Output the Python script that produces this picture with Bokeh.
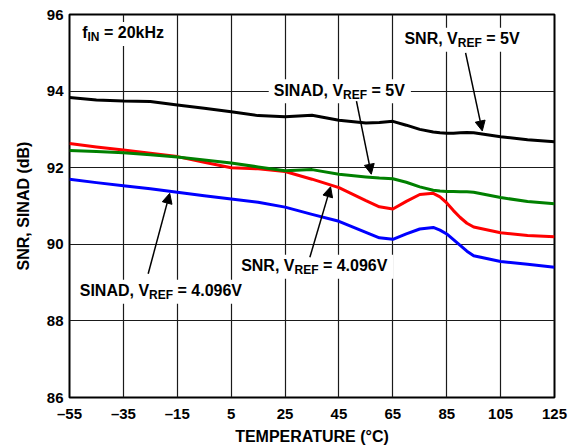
from bokeh.plotting import figure
from bokeh.models import Range1d, FixedTicker, Arrow, NormalHead
from bokeh.core.properties import value
from bokeh.embed import file_html
from bokeh.resources import INLINE

# ---------------- data ----------------
temps = [-55, -45, -35, -25, -15, -5, 5, 15, 25, 35, 45, 55, 60, 65, 70, 75, 80, 82.5, 85, 87.5, 90, 92.5,
         95, 105, 115, 125]
snr_5v = [93.83, 93.77, 93.74, 93.73, 93.64, 93.55, 93.46, 93.36, 93.33, 93.37, 93.24, 93.17, 93.18, 93.21,
          93.11, 93.00, 92.93, 92.91, 92.90, 92.90, 92.91, 92.92, 92.91, 92.81, 92.73, 92.68]
sinad_5v = [92.45, 92.42, 92.39, 92.34, 92.28, 92.20, 92.12, 92.02, 91.92, 91.95, 91.83, 91.76, 91.73, 91.71,
            91.62, 91.50, 91.41, 91.39, 91.38, 91.38, 91.37, 91.37, 91.36, 91.22, 91.12, 91.06]
snr_4096 = [92.63, 92.54, 92.46, 92.38, 92.29, 92.14, 92.00, 91.97, 91.90, 91.70, 91.48, 91.14, 90.98, 90.92,
            91.12, 91.30, 91.33, 91.24, 91.08, 90.88, 90.70, 90.55, 90.45, 90.30, 90.23, 90.20]
sinad_4096 = [91.70, 91.61, 91.53, 91.45, 91.36, 91.27, 91.18, 91.10, 90.97, 90.78, 90.60, 90.31, 90.17, 90.13,
              90.27, 90.40, 90.44, 90.37, 90.27, 90.12, 89.97, 89.82, 89.70, 89.55, 89.48, 89.40]

x_ticks = [-55, -35, -15, 5, 25, 45, 65, 85, 105, 125]
x_tick_labels = ["\u201355", "\u201335", "\u201315", "5", "25", "45", "65", "85", "105", "125"]
y_ticks = [86, 88, 90, 92, 94, 96]
y_tick_labels = ["86", "88", "90", "92", "94", "96"]

FONT = "Liberation Sans"
X0, X1, Y0, Y1 = -55, 125, 86, 96
W, H = 577, 448
BL, BR, BT, BB = 69, 23, 14, 51
FW, FH = W - BL - BR, H - BT - BB
PX_X = FW / (X1 - X0)   # pixels per degree
PX_Y = FH / (Y1 - Y0)   # pixels per dB

p = figure(width=W, height=H, x_range=Range1d(X0, X1), y_range=Range1d(Y0, Y1),
           output_backend="svg", toolbar_location=None,
           min_border_left=BL, min_border_right=BR, min_border_top=BT, min_border_bottom=BB)
p.background_fill_color = None
p.border_fill_color = None
p.outline_line_color = "black"
p.outline_line_width = 2

p.xaxis.ticker = FixedTicker(ticks=x_ticks)
p.xaxis.major_label_overrides = {t: l for t, l in zip(x_ticks, x_tick_labels)}
p.yaxis.ticker = FixedTicker(ticks=y_ticks)
p.yaxis.major_label_overrides = {t: l for t, l in zip(y_ticks, y_tick_labels)}
p.xgrid.ticker = FixedTicker(ticks=x_ticks)
p.ygrid.ticker = FixedTicker(ticks=y_ticks)
for ax in p.axis:
    ax.major_tick_out = 0
    ax.major_tick_in = 0
    ax.minor_tick_out = 0
    ax.minor_tick_in = 0
    ax.axis_line_color = None
    ax.major_label_text_font = FONT
    ax.major_label_text_font_size = "15px"
    ax.major_label_text_font_style = "bold"
    ax.major_label_text_color = "black"
    ax.axis_label_text_font = FONT
    ax.axis_label_text_font_size = "16px"
    ax.axis_label_text_font_style = "bold"
    ax.axis_label_text_color = "black"
p.xaxis.axis_label = "TEMPERATURE (\u00b0C)"
p.yaxis.axis_label = "SNR, SINAD (dB)"
p.xaxis.major_label_standoff = 7
p.xaxis.axis_label_standoff = 3
p.yaxis.major_label_standoff = 6
p.yaxis.axis_label_standoff = 12

p.grid.grid_line_color = "#1a1a1a"
p.grid.grid_line_width = 1.2
p.grid.grid_line_alpha = 1.0

# curves
p.line(temps, snr_5v, line_color="black", line_width=3, line_join="round")
p.line(temps, sinad_4096, line_color="#0000ff", line_width=3, line_join="round")
p.line(temps, snr_4096, line_color="#ff0000", line_width=3, line_join="round")
p.line(temps, sinad_5v, line_color="#008000", line_width=3, line_join="round")

# ---------------- annotations ----------------
CW = {' ': 278, ',': 278, '.': 278, '=': 584, 'A': 722, 'D': 722, 'E': 667, 'F': 611, 'H': 722,
      'I': 278, 'N': 722, 'R': 722, 'S': 667, 'V': 667, 'f': 333, 'k': 556, 'z': 500}


def tw(s, size):
    return sum(CW.get(c, 556) for c in s) * size / 1000.0


MAIN, SUB = 16, 12


def add_label(x0, y0, parts):
    total = sum(tw(t, SUB if sub else MAIN) for t, sub in parts)
    p.quad(left=[x0 - 5 / PX_X], right=[x0 + (total + 6) / PX_X],
           top=[y0 + 11 / PX_Y], bottom=[y0 - 13 / PX_Y],
           fill_color="white", line_color=None)
    cx = x0
    for t, sub in parts:
        size = SUB if sub else MAIN
        yy = y0 - (4.5 / PX_Y if sub else 0)
        stripped = t.lstrip(" ")
        lead = tw(t[:len(t) - len(stripped)], size) / PX_X
        p.text(x=[cx + lead], y=[yy], text=[stripped], text_font=value(FONT), text_font_size=f"{size}px",
               text_font_style="bold", text_color="black", text_baseline="middle", text_align="left")
        cx += tw(t, size) / PX_X


add_label(-50.3, 95.52, [("f", False), ("IN", True), (" = 20kHz", False)])
add_label(69.3, 95.37, [("SNR, V", False), ("REF", True), (" = 5V", False)])
add_label(20.8, 94.02, [("SINAD, V", False), ("REF", True), (" = 5V", False)])
add_label(8.7, 89.44, [("SNR, V", False), ("REF", True), (" = 4.096V", False)])
add_label(-51.2, 88.79, [("SINAD, V", False), ("REF", True), (" = 4.096V", False)])

arrows = [
    (92.0, 95.0, 98.2, 92.96),
    (51.5, 93.74, 57.0, 91.83),
    (34.2, 89.66, 41.9, 91.50),
    (-25.8, 89.23, -17.8, 91.33),
]
for xs, ys, xe, ye in arrows:
    p.add_layout(Arrow(x_start=xs, y_start=ys, x_end=xe, y_end=ye, line_color="black", line_width=1.5,
                       end=NormalHead(size=10, fill_color="black", line_color="black", line_width=1)))

open("out.html", "w").write(file_html(p, INLINE))
